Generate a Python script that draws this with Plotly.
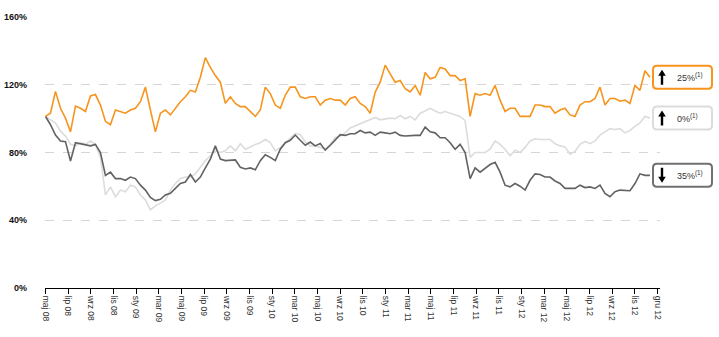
import numpy as np
import plotly.graph_objects as go

# ---------------- data (values in % of start) ----------------
tick_labels = ["maj 08", "lip 08", "wrz 08", "lis 08", "sty 09", "mar 09", "maj 09",
               "lip 09", "wrz 09", "lis 09", "sty 10", "mar 10", "maj 10", "wrz 10",
               "lis 10", "sty 11", "mar 11", "maj 11", "lip 11", "wrz 11", "lis 11",
               "sty 12", "mar 12", "maj 12", "lip 12", "wrz 12", "lis 12", "gru 12"]

orange = [101.3, 103.2, 116.1, 106.1, 100.3, 92.2, 107.4, 106.1, 104.2, 113.4, 114.2, 108,
          98.4, 96.4, 105.1, 104.2, 103.2, 105.1, 106.1, 110, 118.6, 105.1, 92.2, 103.2, 105.1,
          102.2, 106.1, 110, 112.9, 116.7, 115.7, 124.4, 136, 130.2, 125.4, 121.5, 109, 112.9,
          109, 107.1, 107.1, 104.2, 101.3, 105.1, 118.6, 114.8, 108, 106.1, 113.8,
          118.6, 118.6, 112.9, 111.9, 112.9, 112.9, 108, 110.9, 111.9, 110.9, 110.9, 108,
          111.9, 112.9, 109, 107.1, 103.2, 115.7, 121.5, 131.6, 126.4, 121.5, 122.5,
          117.7, 115.7, 119.6, 113.8, 127.3, 123.5, 124.4, 130.2, 129.3, 125.4, 125.4, 122.5,
          123.5, 101.3, 114.8, 113.8, 114.8, 113.8, 119.6, 110.9, 104.2, 106.1, 106.1, 101.3,
          101.3, 101.3, 108, 108, 107.1, 107.1, 103.2, 105.1, 106.1, 102.2, 101.3, 108, 110,
          110, 111.9, 118.6, 108, 111.9, 111.9, 110.3, 110.9, 109, 119.6, 116.7, 128.3, 124.4]

light = [101.3, 99.3, 97.4, 92.6, 89.7, 84.8, 83.9, 85.8, 84.8, 86.8, 84.8, 77.1, 55,
         59.7, 53.9, 57.8, 56.8, 60.7, 59.7, 54.9, 52, 46.2, 48.5, 50.1, 52,
         57.8, 61.7, 64.6, 65.5, 65.5, 67.4, 71.3, 75.2, 78.1, 81, 80, 81, 83.9, 81, 85.2,
         81.9, 83.3, 84.8, 85.8, 87.7, 85.8, 81, 82.9, 85.8,
         88.7, 91.2, 90.6, 86.2, 83.9, 83.9, 82.9, 82, 84.8, 88.7, 89.7, 91.6, 94.5, 95.8,
         96.8, 98, 99.3, 100.7, 99.3, 99.9, 100.3, 99.9, 101.8,
         99.9, 101.3, 99.3, 103.2, 104.5, 106.1, 104.5, 103.2, 104.2, 103.2, 102.2, 101.3,
         98.8, 77.1, 80, 80, 80, 82, 86.8, 84.8, 81.9, 78.1, 81.4, 80,
         83, 86.8, 88.1, 87.7, 87.7, 87.7, 85.2, 83.9, 83.3, 79, 80.6, 84.8, 86.5, 85.2,
         86.8, 90.3, 92.2, 94.1, 93.6, 94.1, 91.6, 93, 95.4, 97.4, 101.3, 100.3]

dark = [101.3, 96.4, 90.3, 86.8, 86.4, 75, 85.8, 85.2, 84.8, 83.9, 84.8, 80, 66.5,
        68.4, 64.6, 64.6, 63.6, 65.5, 64.6, 60.7, 57.8, 53.5, 51.6, 52.4, 54.9,
        55.9, 58.8, 61.7, 62.6, 67, 62.6, 65.5, 70.9, 76.1, 83.9, 76.1, 75.2, 75.2, 75.6,
        71.3, 70.3, 70.9, 69.8, 75.2, 78.7, 77.1, 75.2, 81.9, 85.8,
        87.2, 90.3, 87.2, 84.3, 86.2, 83.9, 85.3, 81.4, 84.3, 87.2, 90.5, 90.1, 91.1, 91.1,
        93, 91.6, 92, 90.1, 92, 91.6, 91.1, 92, 90.1,
        89.7, 90.1, 90.1, 90.1, 95, 92.2, 91.6, 88.7, 88.7, 85.8, 81.9, 84.8, 80, 64.6,
        70.9, 68.4, 70.9, 72.9, 74.2, 68.4, 60.7, 59.7, 61.7, 60.1,
        57.8, 63.6, 67.4, 67, 65.5, 65.5, 63.2, 61.7, 58.8, 58.8, 58.8, 60.7, 59.3, 59.7,
        58.8, 60.7, 55.9, 53.9, 56.8, 57.8, 57.8, 57.4, 61.7, 67.4, 66.5, 66.5]

badge_text = ["25%", "0%", "35%"]
badge_dir = ["up", "up", "down"]

# ---------------- figure ----------------
ORANGE = "#F7941D"
LIGHT = "#DCDCDC"
DARK = "#626264"
FONT = "Liberation Sans"

L, R, T, B = 45, 59, 17, 49
W = 719 - L - R

def px_x(p):
    return (p - L) / W

fig = go.Figure()
series = [(light, LIGHT), (dark, DARK), (orange, ORANGE)]
for vals, col in series:
    fig.add_trace(go.Scatter(x=np.arange(len(vals)), y=vals, mode="lines",
                             line=dict(color=col, width=1.6), hoverinfo="skip",
                             showlegend=False))

n_pts = len(orange)
x_end = (n_pts - 1) * 1.0125
tickvals = np.linspace(0, x_end, len(tick_labels))

fig.update_layout(
    width=719, height=337,
    margin=dict(l=L, r=R, t=T, b=B),
    paper_bgcolor="white", plot_bgcolor="white",
    font=dict(family=FONT, color="#222"),
    xaxis=dict(range=[-0.1, x_end + 0.5], tickvals=tickvals, ticktext=tick_labels,
               tickangle=90, ticks="outside", ticklen=5, tickcolor="black",
               showline=True, linecolor="black", linewidth=1, showgrid=False,
               zeroline=False, tickfont=dict(size=8.5, color="#333"), automargin=False),
    yaxis=dict(range=[0, 160], tickvals=[0, 40, 80, 120, 160],
               ticktext=["0%", "40%", "80%", "120%", "160%"],
               showgrid=True, gridcolor="#D6D6D6", griddash="dash", gridwidth=1,
               zeroline=False, showline=False, ticks="",
               tickfont=dict(size=9, color="#111", family=FONT, weight="bold"),
               ticklabelstandoff=17, automargin=False),
)

ends = [orange[-1], light[-1], dark[-1]]
cols = [ORANGE, LIGHT, "#707070"]
bw, bh, r = 59, 11.5, 4
box_path = (f"M {r},{-bh} L {bw - r},{-bh} Q {bw},{-bh} {bw},{-bh + r} L {bw},{bh - r} "
            f"Q {bw},{bh} {bw - r},{bh} L {r},{bh} Q 0,{bh} 0,{bh - r} L 0,{-bh + r} "
            f"Q 0,{-bh} {r},{-bh} Z")

def arrow_path(sign):
    # sign = +1 -> pointing up, -1 -> pointing down (pixel offsets, up positive)
    pts = [(0, 7.5), (3.8, 1.5), (1.2, 1.5), (1.2, -7.5), (-1.2, -7.5), (-1.2, 1.5), (-3.8, 1.5)]
    return "M " + " L ".join(f"{x},{sign * y}" for x, y in pts) + " Z"

for val, col, txt, d in zip(ends, cols, badge_text, badge_dir):
    fig.add_shape(type="path", xref="paper", yref="y", xsizemode="pixel",
                  ysizemode="pixel", xanchor=px_x(653), yanchor=val, path=box_path,
                  line=dict(color=col, width=2), fillcolor="white", layer="above")
    fig.add_shape(type="path", xref="paper", yref="y", xsizemode="pixel",
                  ysizemode="pixel", xanchor=px_x(662), yanchor=val,
                  path=arrow_path(1 if d == "up" else -1),
                  line=dict(width=0), fillcolor="black", layer="above")
    fig.add_annotation(x=px_x(675), y=val, xref="paper", yref="y", xanchor="left",
                       text=txt + "<sup>(1)</sup>", showarrow=False,
                       font=dict(size=9, color="#333", family=FONT))

fig.write_html("out.html")
